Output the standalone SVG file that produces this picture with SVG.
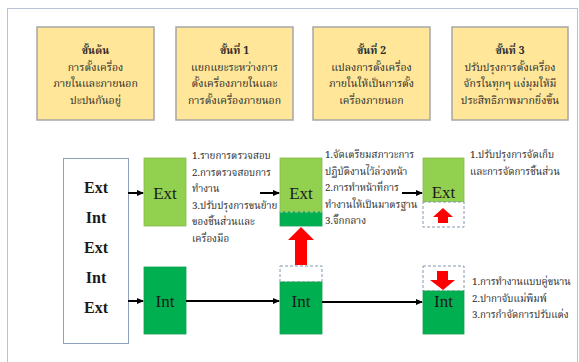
<svg xmlns="http://www.w3.org/2000/svg" width="579" height="362" viewBox="0 0 579 362">
<defs>
<style>
.frame{fill:#fff;stroke:#B8C4D4;stroke-width:1}
.step{fill:#FFE699;stroke:#A6A6A6;stroke-width:1.5}
.th{font-family:"Noto Serif Thai","Noto Sans Thai","Liberation Serif",serif;font-size:10.5px;fill:#2a2a2a}
.sm{font-size:9.8px}
.tc{text-anchor:middle}
.b{font-weight:bold}
.lbl{font-family:"Liberation Serif","Times New Roman",serif;font-size:17px;fill:#1a1a1a;text-anchor:middle}
.lst{font-family:"Liberation Serif","Times New Roman",serif;font-size:16px;font-weight:bold;fill:#1a1a1a;text-anchor:middle}
.lg{fill:#92D050;stroke:#8AB84C;stroke-width:0.8}
.dg{fill:#00B050;stroke:#10A050;stroke-width:0.8}
.dash{fill:#fff;stroke:#8497B0;stroke-width:1;stroke-dasharray:3,2}
.red{fill:#FF0000}
.con{stroke:#000;stroke-width:2;fill:none;marker-end:url(#ah)}
</style>
<marker id="ah" markerWidth="8" markerHeight="8" refX="6" refY="4" orient="auto" markerUnits="userSpaceOnUse">
<path d="M0,1 L7,4 L0,7 Z" fill="#000"/>
</marker>
</defs>
<rect x="0" y="0" width="579" height="362" fill="#fff"/>
<rect class="frame" x="7.5" y="8.5" width="570" height="400"/>

<g id="step0">
<rect class="step" x="37" y="27" width="117" height="93"/>
<text class="th tc b" x="95.5" y="54">ขั้นต้น</text>
<text class="th tc" x="95.5" y="70.5">การตั้งเครื่อง</text>
<text class="th tc" x="95.5" y="87">ภายในและภายนอก</text>
<text class="th tc" x="95.5" y="103.5">ปะปนกันอยู่</text>
</g>
<g id="step1">
<rect class="step" x="176" y="27" width="117" height="93"/>
<text class="th tc b" x="234.5" y="54">ขั้นที่ 1</text>
<text class="th tc" x="234.5" y="70.5">แยกแยะระหว่างการ</text>
<text class="th tc" x="234.5" y="87">ตั้งเครื่องภายในและ</text>
<text class="th tc" x="234.5" y="103.5">การตั้งเครื่องภายนอก</text>
</g>
<g id="step2">
<rect class="step" x="313" y="27" width="117" height="93"/>
<text class="th tc b" x="371.5" y="54">ขั้นที่ 2</text>
<text class="th tc" x="371.5" y="70.5">แปลงการตั้งเครื่อง</text>
<text class="th tc" x="371.5" y="87">ภายในให้เป็นการตั้ง</text>
<text class="th tc" x="371.5" y="103.5">เครื่องภายนอก</text>
</g>
<g id="step3">
<rect class="step" x="452" y="27" width="116" height="93"/>
<text class="th tc b" x="510" y="54">ขั้นที่ 3</text>
<text class="th tc" x="510" y="70.5">ปรับปรุงการตั้งเครื่อง</text>
<text class="th tc" x="510" y="87">จักรในทุกๆ แง่มุมให้มี</text>
<text class="th tc" x="510" y="103.5">ประสิทธิภาพมากยิ่งขึ้น</text>
</g>

<g id="mixed">
<rect x="63.5" y="158.5" width="65" height="185" fill="#fff" stroke="#8EA2BD" stroke-width="1"/>
<text class="lst" x="96" y="193">Ext</text>
<text class="lst" x="96" y="223">Int</text>
<text class="lst" x="96" y="253">Ext</text>
<text class="lst" x="96" y="283">Int</text>
<text class="lst" x="96" y="313">Ext</text>
</g>

<g id="ext1">
<rect class="lg" x="144" y="158" width="42" height="68"/>
<text class="lbl" x="165" y="199">Ext</text>
</g>
<g id="int1">
<rect class="dg" x="144" y="267" width="42" height="67"/>
<text class="lbl" x="165" y="307">Int</text>
</g>
<g id="notes1">
<text class="th sm" x="192" y="159">1.รายการตรวจสอบ</text>
<text class="th sm" x="192" y="175.5">2.การตรวจสอบการ</text>
<text class="th sm" x="192" y="192">ทำงาน</text>
<text class="th sm" x="192" y="208.5">3.ปรับปรุงการขนย้าย</text>
<text class="th sm" x="192" y="225">ของชิ้นส่วนและ</text>
<text class="th sm" x="192" y="241.5">เครื่องมือ</text>
</g>

<g id="ext2">
<rect class="lg" x="280" y="158" width="42" height="54"/>
<rect class="dg" x="280" y="212" width="42" height="14"/>
<line x1="280" y1="212" x2="322" y2="212" stroke="#B8D8A0" stroke-width="1" stroke-dasharray="3,2"/>
<text class="lbl" x="301" y="199">Ext</text>
</g>
<g id="int2">
<rect class="dash" x="280" y="266" width="42" height="16"/>
<rect class="dg" x="280" y="282" width="42" height="52"/>
<text class="lbl" x="301" y="307">Int</text>
</g>
<g id="notes2">
<text class="th sm" x="325" y="158">1.จัดเตรียมสภาวะการ</text>
<text class="th sm" x="325" y="174.5">ปฏิบัติงานไว้ล่วงหน้า</text>
<text class="th sm" x="325" y="191">2.การทำหน้าที่การ</text>
<text class="th sm" x="325" y="207.5">ทำงานให้เป็นมาตรฐาน</text>
<text class="th sm" x="325" y="224">3.จี๊กกลาง</text>
</g>

<g id="ext3">
<rect class="lg" x="423" y="158" width="41" height="44"/>
<rect class="dash" x="423" y="202" width="41" height="25"/>
<text class="lbl" x="443.5" y="198">Ext</text>
<polygon class="red" points="443,208 453,217 448,217 448,223 438,223 438,217 433,217"/>
</g>
<g id="int3">
<rect class="dash" x="423" y="266" width="41" height="25"/>
<rect class="dg" x="423" y="291" width="41" height="43"/>
<text class="lbl" x="443.5" y="307">Int</text>
<polygon class="red" points="437,271 448,271 448,280 455,280 443,290 430,280 437,280"/>
</g>
<g id="notes3">
<text class="th sm" x="470" y="158">1.ปรับปรุงการจัดเก็บ</text>
<text class="th sm" x="470" y="174.5">และการจัดการชิ้นส่วน</text>
</g>
<g id="notes4">
<text class="th sm" x="472" y="285">1.การทำงานแบบคู่ขนาน</text>
<text class="th sm" x="472" y="301.5">2.ปากาจับแม่พิมพ์</text>
<text class="th sm" x="472" y="318">3.การกำจัดการปรับแต่ง</text>
</g>

<g id="bigArrow">
<polygon class="red" points="301,227 314,240 307,240 307,265 295,265 295,240 288,240"/>
</g>

<g id="connectors">
<line class="con" x1="128" y1="193" x2="143" y2="193"/>
<line class="con" x1="128" y1="301" x2="143" y2="301"/>
<line class="con" x1="186" y1="301" x2="279" y2="301"/>
<line class="con" x1="322" y1="302" x2="422" y2="302"/>
<line class="con" x1="260" y1="193" x2="279" y2="193"/>
<line class="con" x1="402" y1="193" x2="422" y2="193"/>
</g>
</svg>
